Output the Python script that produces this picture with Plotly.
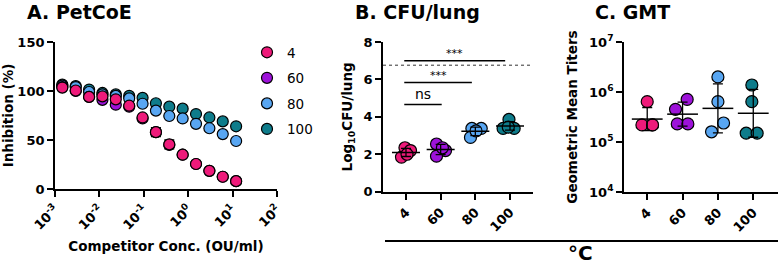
import plotly.graph_objects as go
import numpy as np

W, H = 778, 266
FONT = "DejaVu Sans"

# ---------------- data ----------------
groups = ["4", "60", "80", "100"]
colors = ["#EE1A7A", "#9D12D9", "#58A6F2", "#0E7C8B"]

# Panel A: competition ELISA
conc = [0.00146, 0.00293, 0.00586, 0.0117, 0.0234, 0.0469, 0.0938,
        0.1875, 0.375, 0.75, 1.5, 3, 6, 12]
inhib_4 = [103.5, 100.5, 94, 94.5, 91.5, 85, 73, 58, 45.5, 35, 25.5, 18.5, 12.5, 8]
inhib_60 = [104, 100, 94, 91, 86, 84, 72, 58, 45, 35, 25.5, 18.5, 12.5, 8]
inhib_80 = [105.5, 104, 99, 96.5, 95, 92.5, 87, 80, 74.5, 72, 66.5, 62, 56, 49]
inhib_100 = [106.5, 105, 101.5, 98, 96.5, 95, 93, 87.5, 84, 82, 76.5, 73, 69, 64]
err_4 = [1, 1, 1, 1, 1, 1, 1, 4.5, 4.5, 1, 1, 1, 1, 1]
err_60 = [1] * 14
err_80 = [1] * 14
err_100 = [1] * 14

# Panel B: log10 CFU/lung per mouse
cfu_4 = [1.85, 2.35, 2.2, 2.0]
cfu_60 = [2.55, 2.2, 1.9, 2.35]
cfu_80 = [3.38, 3.38, 2.9, 3.25]
cfu_100 = [3.86, 3.38, 3.38, 3.45]
cfu_jit = [[-0.13, -0.03, 0.13, 0.03], [-0.12, 0.14, -0.12, 0.05],
           [-0.1, 0.17, -0.14, 0.02], [-0.03, -0.2, 0.12, -0.05]]
lod = 6.76
sig_y = [7.0, 5.83, 4.66]
sig_x1 = [2.86, 1.9, 1.03]
sig_lbl = ["***", "***", "ns"]

# Panel C: titers
gmt_4 = [6.4e5, 2.2e5, 2.2e5, 2.2e5]
gmt_60 = [7.1e5, 4.5e5, 2.3e5, 2.3e5]
gmt_80 = [2.0e6, 6.4e5, 2.4e5, 1.6e5]
gmt_100 = [1.38e6, 6.4e5, 1.5e5, 1.5e5]
gmt_jit = [[0, -0.15, 0.15, 0.15], [0.13, -0.2, -0.15, 0.15],
           [0, 0, 0.16, -0.18], [-0.04, -0.04, -0.2, 0.11]]

inhib = [inhib_4, inhib_60, inhib_80, inhib_100]
inhib_err = [err_4, err_60, err_80, err_100]
cfu = [cfu_4, cfu_60, cfu_80, cfu_100]
gmt = [gmt_4, gmt_60, gmt_80, gmt_100]


def py(y):
    return 1 - y / H


fig = go.Figure()

# ---- Panel A (draw 100 first so 4 ends on top) ----
for i in reversed(range(4)):
    fig.add_trace(go.Scatter(
        x=conc, y=inhib[i], mode="markers", name=groups[i],
        legendgroup=groups[i], legendrank=1000 + i,
        marker=dict(size=11, color=colors[i], line=dict(color="black", width=1.2)),
        error_y=dict(type="data", array=inhib_err[i], color="black", thickness=1.3, width=5),
        xaxis="x", yaxis="y", showlegend=True, cliponaxis=False))

# ---- Panel B ----
for i in range(4):
    xs = [i + j for j in cfu_jit[i]]
    fig.add_trace(go.Scatter(
        x=xs, y=cfu[i], mode="markers", legendgroup=groups[i], legendrank=1000 + i,
        showlegend=False,
        marker=dict(size=12, color=colors[i], line=dict(color="black", width=1.2)),
        xaxis="x2", yaxis="y2", cliponaxis=False))
for i in range(4):
    m = float(np.mean(cfu[i]))
    s = float(np.std(cfu[i], ddof=1))
    fig.add_trace(go.Scatter(
        x=[i], y=[m], mode="markers", showlegend=False, legendgroup=groups[i],
        legendrank=1000 + i,
        marker=dict(symbol="line-ew", size=20, color="black", line=dict(color="black", width=1.5)),
        error_y=dict(type="data", array=[s], color="black", thickness=1.3, width=5),
        xaxis="x2", yaxis="y2", hoverinfo="skip"))

# ---- Panel C ----
for i in range(4):
    xs = [i + j for j in gmt_jit[i]]
    fig.add_trace(go.Scatter(
        x=xs, y=gmt[i], mode="markers", legendgroup=groups[i], legendrank=1000 + i,
        showlegend=False,
        marker=dict(size=12, color=colors[i], line=dict(color="black", width=1.2)),
        xaxis="x3", yaxis="y3", cliponaxis=False))
for i in range(4):
    lg = np.log10(gmt[i])
    m = float(np.mean(lg))
    s = float(np.std(lg, ddof=1))
    gm = 10 ** m
    fig.add_trace(go.Scatter(
        x=[i], y=[gm], mode="markers", showlegend=False, legendgroup=groups[i],
        legendrank=1000 + i,
        marker=dict(symbol="line-ew", size=22, color="black", line=dict(color="black", width=1.5)),
        error_y=dict(type="data", symmetric=False, array=[10 ** (m + s) - gm],
                     arrayminus=[gm - 10 ** (m - s)], color="black", thickness=1.3, width=5),
        xaxis="x3", yaxis="y3", hoverinfo="skip"))

tickfont = dict(family=FONT, size=13, color="black", weight="bold")
titlefont = dict(family=FONT, size=13.5, color="black", weight="bold")
axis_common = dict(showline=True, linecolor="black", linewidth=1.8, ticks="outside",
                   ticklen=6, tickwidth=1.6, tickcolor="black", showgrid=False,
                   zeroline=False, tickfont=tickfont, automargin=False)

decades = [1e-3, 1e-2, 1e-1, 1e0, 1e1, 1e2]
fig.update_layout(
    template="none",
    width=W, height=H, margin=dict(l=0, r=0, t=0, b=0, pad=0),
    paper_bgcolor="white", plot_bgcolor="white",
    font=dict(family=FONT, color="black"),
    xaxis=dict(domain=[55 / W, 277 / W], type="log", range=[-3, 2], anchor="y",
               tickvals=decades,
               ticktext=["10<sup>%d</sup>" % e for e in range(-3, 3)],
               tickangle=-45,
               title=dict(text="Competitor Conc. (OU/ml)", font=titlefont, standoff=10),
               **axis_common),
    yaxis=dict(domain=[py(189), py(42)], range=[0, 150], anchor="x",
               tickvals=[0, 50, 100, 150],
               title=dict(text="Inhibition (%)", font=titlefont, standoff=8),
               **axis_common),
    xaxis2=dict(domain=[383 / W, 533 / W], range=[-0.663, 3.663], anchor="y2",
                tickvals=[0, 1, 2, 3], ticktext=groups, tickangle=-45, **axis_common),
    yaxis2=dict(domain=[py(191.7), py(42)], range=[0, 8], anchor="x2",
                tickvals=[0, 2, 4, 6, 8],
                title=dict(text="Log<sub>10</sub>CFU/lung", font=titlefont, standoff=8),
                **axis_common),
    xaxis3=dict(domain=[624 / W, 1.0], range=[-0.657, 3.7], anchor="y3",
                tickvals=[0, 1, 2, 3], ticktext=groups, tickangle=-45, **axis_common),
    yaxis3=dict(domain=[py(192), py(42)], type="log", range=[4, 7], anchor="x3",
                tickvals=[1e4, 1e5, 1e6, 1e7],
                ticktext=["10<sup>%d</sup>" % e for e in range(4, 8)],
                title=dict(text="Geometric Mean Titers", font=titlefont, standoff=8),
                **axis_common),
    legend=dict(x=(271 - 24) / W, y=py(37), xanchor="left", yanchor="top",
                traceorder="grouped", tracegroupgap=5, bgcolor="rgba(0,0,0,0)",
                font=dict(family=FONT, size=13.5, color="black")),
    showlegend=True,
)

shapes = []
# limit of detection dotted line
shapes.append(dict(type="line", xref="x2", yref="y2", x0=-0.663, x1=3.663, y0=lod, y1=lod,
                   line=dict(color="#333333", width=1, dash="dot")))
annotations = []
for yv, x1, lbl in zip(sig_y, sig_x1, sig_lbl):
    shapes.append(dict(type="line", xref="x2", yref="y2", x0=-0.05, x1=x1, y0=yv, y1=yv,
                       line=dict(color="black", width=1.5)))
    if lbl == "ns":
        annotations.append(dict(xref="x2", yref="y2", x=(x1 - 0.05) / 2, y=yv, yanchor="bottom",
                                text=lbl, showarrow=False, yshift=1,
                                font=dict(family=FONT, size=14, color="black")))
    else:
        annotations.append(dict(xref="x2", yref="y2", x=(x1 - 0.05) / 2, y=yv, yanchor="bottom",
                                text=lbl, showarrow=False, yshift=-1,
                                font=dict(family=FONT, size=11, color="black")))

# shared temperature axis line
shapes.append(dict(type="line", xref="paper", yref="paper", x0=385 / W, x1=1.0,
                   y0=py(241), y1=py(241), line=dict(color="black", width=2)))
annotations.append(dict(xref="paper", yref="paper", x=580 / W, y=py(253), text="°C",
                        showarrow=False, xanchor="center", yanchor="middle",
                        font=dict(family=FONT, size=20, color="black", weight="bold")))

# panel titles
annotations.append(dict(xref="paper", yref="paper", x=25 / W, y=py(12), text="A. PetCoE",
                        showarrow=False, xanchor="left", yanchor="middle",
                        font=dict(family=FONT, size=19, color="black", weight="bold")))
annotations.append(dict(xref="paper", yref="paper", x=417 / W, y=py(12), text="B. CFU/lung",
                        showarrow=False, xanchor="center", yanchor="middle",
                        font=dict(family=FONT, size=19, color="black", weight="bold")))
annotations.append(dict(xref="paper", yref="paper", x=632 / W, y=py(12), text="C. GMT",
                        showarrow=False, xanchor="center", yanchor="middle",
                        font=dict(family=FONT, size=19, color="black", weight="bold")))

fig.update_layout(shapes=shapes, annotations=annotations)
fig.write_html("out.html")
